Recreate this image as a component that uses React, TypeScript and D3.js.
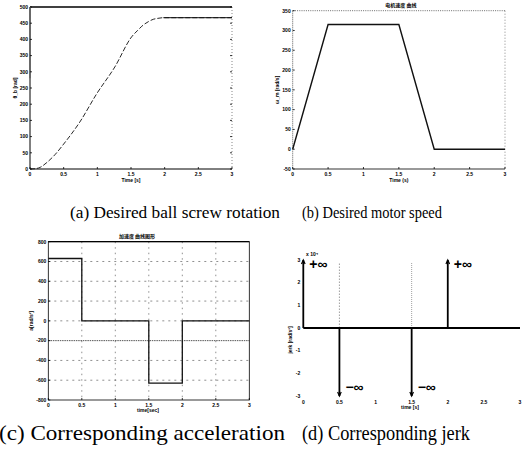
import React from "react";
import * as d3 from "d3";

const timeTicks = [0, 0.5, 1, 1.5, 2, 2.5, 3];
const timeTickLabels = ["0", "0.5", "1", "1.5", "2", "2.5", "3"];

const rotationTime = [0, 0.08, 0.15, 0.25, 0.37, 0.5, 0.74, 0.99, 1.26, 1.51, 1.6, 1.68, 1.76, 1.83, 1.9, 1.98, 2.5, 3];
const rotationValues = [0, 1, 5, 20, 44, 77, 145, 232, 315, 408, 428, 444, 455, 462, 465, 467, 467, 467];
const rotationTicks = [0, 50, 100, 150, 200, 250, 300, 350, 400, 450, 500];

const speedTime = [0, 0.5, 1.5, 2, 3];
const speedValues = [0, 315, 315, 0, 0];
const speedTicks = [-50, 0, 50, 100, 150, 200, 250, 300, 350];

const accelTime = [0, 0.5, 1.5, 2, 3];
const accelValues = [630, 0, -630, 0, 0];
const accelTicks = [-800, -600, -400, -200, 0, 200, 400, 600, 800];

const jerkTicks = [-3, -2, -1, 0, 1, 2, 3];
const impulseTimes = [0, 0.5, 1.5, 2];
const impulseSigns = [1, -1, -1, 1];
const impulseLabels = ["+∞", "−∞", "−∞", "+∞"];

const captions = [
  "(a) Desired ball screw rotation",
  "(b) Desired motor speed",
  "(c) Corresponding acceleration",
  "(d) Corresponding jerk",
];

const tickFont = { fontFamily: "Liberation Sans, Arial", fontSize: 5, fontWeight: 700 } as const;
const cjkFont = { fontFamily: "Noto Sans CJK SC", fontSize: 5, fontWeight: 700 } as const;

function PanelA() {
  const x = d3.scaleLinear().domain([0, 3]).range([30, 232]);
  const y = d3.scaleLinear().domain([0, 500]).range([169, 7]);
  const pts = rotationTime.map((t, i) => [t, rotationValues[i]] as [number, number]);
  const line = d3.line<[number, number]>().x((d) => x(d[0])).y((d) => y(d[1])).curve(d3.curveMonotoneX);
  return (
    <g>
      <line x1={x(0)} x2={x(3)} y1={y(500)} y2={y(500)} stroke="#000" strokeWidth={1.6} />
      <line x1={x(3)} x2={x(3)} y1={y(500)} y2={y(0)} stroke="#555" strokeWidth={0.7} strokeDasharray="1,2" />
      <line x1={x(0)} x2={x(0)} y1={y(500)} y2={y(0)} stroke="#000" strokeWidth={1} />
      <line x1={x(0)} x2={x(0)} y1={y(500)} y2={y(280)} stroke="#666" strokeWidth={1.8} />
      <line x1={x(0)} x2={x(3)} y1={y(0)} y2={y(0)} stroke="#000" strokeWidth={1} />
      {rotationTicks.map((v) => (
        <g key={v}>
          <line x1={x(0)} x2={x(0) + 2} y1={y(v)} y2={y(v)} stroke="#000" strokeWidth={0.8} />
          <line x1={x(3)} x2={x(3) - 2} y1={y(v)} y2={y(v)} stroke="#000" strokeWidth={0.8} />
          <text x={x(0) - 2} y={y(v) + 1.8} textAnchor="end" {...tickFont}>{v}</text>
        </g>
      ))}
      {timeTicks.map((t, i) => (
        <g key={t}>
          <line x1={x(t)} x2={x(t)} y1={y(0)} y2={y(0) - 2} stroke="#000" strokeWidth={0.8} />
          <text x={x(t)} y={y(0) + 7} textAnchor="middle" {...tickFont}>{timeTickLabels[i]}</text>
        </g>
      ))}
      <path d={line(pts) || ""} fill="none" stroke="#111" strokeWidth={0.9} strokeDasharray="5,2" />
      <line x1={x(1.98)} x2={x(3)} y1={y(467)} y2={y(467)} stroke="#111" strokeWidth={1} />
      <text x={(x(0) + x(3)) / 2} y={182} textAnchor="middle" {...tickFont}>Time [s]</text>
      <text transform={`translate(17,${(y(0) + y(500)) / 2}) rotate(-90)`} textAnchor="middle" {...tickFont}>θ_b [rad]</text>
    </g>
  );
}

function PanelB() {
  const x = d3.scaleLinear().domain([0, 3]).range([292.7, 505]);
  const y = d3.scaleLinear().domain([-50, 350]).range([169, 10.7]);
  const pts = speedTime.map((t, i) => [t, speedValues[i]] as [number, number]);
  const line = d3.line<[number, number]>().x((d) => x(d[0])).y((d) => y(d[1]));
  return (
    <g>
      <line x1={x(0)} x2={x(3)} y1={y(350)} y2={y(350)} stroke="#444" strokeWidth={0.8} strokeDasharray="1,1.2" />
      <line x1={x(3)} x2={x(3)} y1={y(350)} y2={y(-50)} stroke="#555" strokeWidth={0.7} strokeDasharray="1,2" />
      <line x1={x(0)} x2={x(0)} y1={y(350)} y2={y(-50)} stroke="#333" strokeWidth={0.8} strokeDasharray="1,1" />
      <line x1={x(0)} x2={x(3)} y1={y(-50)} y2={y(-50)} stroke="#777" strokeWidth={1.6} />
      {speedTicks.map((v) => (
        <g key={v}>
          <line x1={x(0)} x2={x(0) + 2} y1={y(v)} y2={y(v)} stroke="#000" strokeWidth={0.8} />
          <text x={x(0) - 2} y={y(v) + 1.8} textAnchor="end" {...tickFont}>{v}</text>
        </g>
      ))}
      {timeTicks.map((t, i) => (
        <g key={t}>
          <line x1={x(t)} x2={x(t)} y1={y(-50)} y2={y(-50) - 2} stroke="#000" strokeWidth={0.8} />
          <text x={x(t)} y={y(-50) + 7} textAnchor="middle" {...tickFont}>{timeTickLabels[i]}</text>
        </g>
      ))}
      <path d={line(pts) || ""} fill="none" stroke="#111" strokeWidth={1.4} />
      <text x={(x(0) + x(3)) / 2} y={182} textAnchor="middle" {...tickFont}>Time (s)</text>
      <text x={(x(0) + x(3)) / 2 + 2} y={7} textAnchor="middle" {...cjkFont}>电机速度 曲线</text>
      <text transform={`translate(279,${(y(-50) + y(350)) / 2}) rotate(-90)`} textAnchor="middle" {...tickFont}>ω_m [rad/s]</text>
    </g>
  );
}

function PanelC() {
  const x = d3.scaleLinear().domain([0, 3]).range([48.3, 249.3]);
  const y = d3.scaleLinear().domain([-800, 800]).range([400, 241.7]);
  const pts = accelTime.map((t, i) => [t, accelValues[i]] as [number, number]);
  const line = d3.line<[number, number]>().x((d) => x(d[0])).y((d) => y(d[1])).curve(d3.curveStepAfter);
  return (
    <g>
      {accelTicks.slice(1, -1).map((v) => (
        <line key={"g" + v} x1={x(0)} x2={x(3)} y1={y(v)} y2={y(v)} stroke="#444" strokeWidth={v === -200 ? 0.9 : 0.6}
          strokeDasharray={v === -200 ? "1.5,0.8" : "2,4"} />
      ))}
      {timeTicks.slice(1, -1).map((t) => (
        <line key={"v" + t} x1={x(t)} x2={x(t)} y1={y(800)} y2={y(-800)} stroke="#444" strokeWidth={0.6} strokeDasharray="1.5,4" />
      ))}
      <rect x={x(0)} y={y(800)} width={x(3) - x(0)} height={y(-800) - y(800)} fill="none" stroke="#000" strokeWidth={0.8} />
      <line x1={x(0)} x2={x(3)} y1={y(800)} y2={y(800)} stroke="#000" strokeWidth={1.3} />
      {accelTicks.map((v) => (
        <g key={v}>
          <line x1={x(0)} x2={x(0) + 2} y1={y(v)} y2={y(v)} stroke="#000" strokeWidth={0.8} />
          <text x={x(0) - 2} y={y(v) + 1.8} textAnchor="end" {...tickFont}>{v}</text>
        </g>
      ))}
      {timeTicks.map((t, i) => (
        <g key={t}>
          <line x1={x(t)} x2={x(t)} y1={y(-800)} y2={y(-800) - 2} stroke="#000" strokeWidth={0.8} />
          <text x={x(t)} y={y(-800) + 7} textAnchor="middle" {...tickFont}>{timeTickLabels[i]}</text>
        </g>
      ))}
      <path d={line(pts) || ""} fill="none" stroke="#111" strokeWidth={1.3} />
      <text x={148} y={412} textAnchor="middle" {...tickFont}>time[sec]</text>
      <text x={137} y={238} textAnchor="middle" {...cjkFont}>加速度 曲线图形</text>
      <text transform={`translate(33,${(y(-800) + y(800)) / 2}) rotate(-90)`} textAnchor="middle" {...tickFont}>a[rad/s²]</text>
    </g>
  );
}

function PanelD() {
  const x = d3.scaleLinear().domain([0, 3]).range([303.3, 520]);
  const y = d3.scaleLinear().domain([-3, 3]).range([396, 260]);
  return (
    <g>
      <line x1={x(0.5)} x2={x(0.5)} y1={y(0)} y2={y(2.85)} stroke="#777" strokeWidth={0.7} strokeDasharray="1.5,1.5" />
      <line x1={x(1.5)} x2={x(1.5)} y1={y(0)} y2={y(2.9)} stroke="#777" strokeWidth={0.7} strokeDasharray="1,1" />
      <line x1={x(0)} x2={x(3)} y1={y(0)} y2={y(0)} stroke="#000" strokeWidth={1.8} />
      {jerkTicks.map((v) => (
        <text key={v} x={x(0) - 3} y={y(v) + 1.8} textAnchor="end" {...tickFont}>{v}</text>
      ))}
      {timeTicks.map((t, i) => (
        <text key={t} x={x(t)} y={404} textAnchor="middle" {...tickFont}>{timeTickLabels[i]}</text>
      ))}
      <text x={306} y={256} {...tickFont}>x 10⁴</text>
      {impulseTimes.map((t, i) => {
        const s = impulseSigns[i];
        const yEnd = y(3 * s);
        const xx = x(t);
        const head = s > 0
          ? `M${xx - 1.8},${yEnd + 4} L${xx},${yEnd} L${xx + 1.8},${yEnd + 4}`
          : `M${xx - 1.8},${yEnd - 4} L${xx},${yEnd} L${xx + 1.8},${yEnd - 4}`;
        return (
          <g key={t}>
            <line x1={xx} x2={xx} y1={y(0)} y2={yEnd} stroke="#000" strokeWidth={1.8} />
            <path d={head} fill="none" stroke="#000" strokeWidth={1.2} />
            <text x={xx + 6} y={s > 0 ? y(3) + 9 : y(-2.6) + 5}
              fontFamily="Liberation Sans, Arial" fontSize={14} fontWeight={700}>{impulseLabels[i]}</text>
          </g>
        );
      })}
      <text x={410} y={409} textAnchor="middle" {...tickFont}>time [s]</text>
      <text transform={`translate(292,340) rotate(-90)`} textAnchor="middle" {...tickFont}>jerk [rad/s³]</text>
    </g>
  );
}

export default function App() {
  return (
    <div style={{ position: "absolute", left: 0, top: 0 }}>
      <svg width={523} height={453} style={{ display: "block", background: "#fff" }}>
        <PanelA />
        <PanelB />
        <PanelC />
        <PanelD />
        <g fontFamily="Liberation Serif" fill="#000">
          <text x={70} y={218} fontSize={16.5} textLength={210} lengthAdjust="spacingAndGlyphs">{captions[0]}</text>
          <text x={302} y={218} fontSize={16.5} textLength={140} lengthAdjust="spacingAndGlyphs">{captions[1]}</text>
          <text x={-1} y={440} fontSize={21} textLength={286} lengthAdjust="spacingAndGlyphs">{captions[2]}</text>
          <text x={302} y={440} fontSize={20} textLength={168} lengthAdjust="spacingAndGlyphs">{captions[3]}</text>
        </g>
      </svg>
    </div>
  );
}
